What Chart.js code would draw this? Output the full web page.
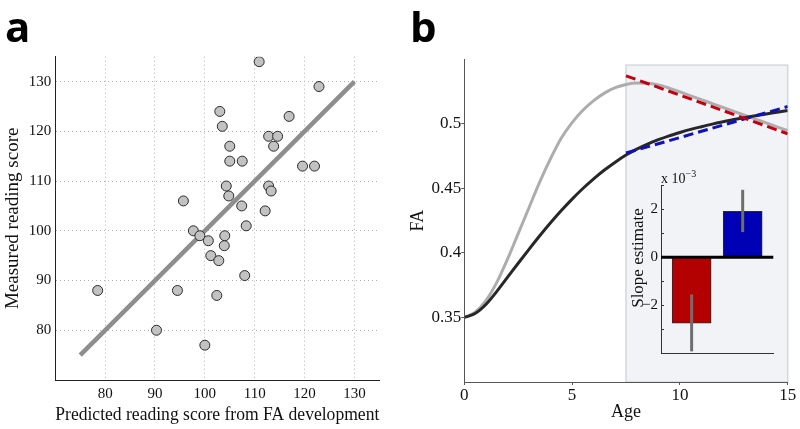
<!DOCTYPE html>
<html>
<head>
<meta charset="utf-8">
<script src="https://cdn.jsdelivr.net/npm/chart.js@4.4.0/dist/chart.umd.min.js"></script>
<style>
  body { margin: 0; background: #fff; }
  #wrap { position: relative; width: 800px; height: 429px; overflow: hidden; font-family: "Liberation Serif", serif; }
  canvas { position: absolute; }
  .letter { position: absolute; top: 5px; font-family: "Open Sans", sans-serif; font-weight: 700; font-size: 42px; line-height: 42px; color: #000; }
  .txt { position: absolute; font-family: "Liberation Serif", serif; color: #111; white-space: nowrap; }
</style>
</head>
<body>
<div id="wrap">
  <canvas id="chartA" width="400" height="429" style="left:0;top:0"></canvas>
  <canvas id="chartB" width="400" height="429" style="left:400px;top:0"></canvas>
  <canvas id="inset" width="150" height="200" style="left:640px;top:170px"></canvas>
  <div class="letter" style="left:5px">a</div>
  <div class="letter" style="left:410px">b</div>
  <div class="txt" style="left:661px;top:168px;font-size:14px">x 10<sup style="font-size:10px">−3</sup></div>
  <div class="txt" style="left:638px;top:258px;font-size:17px;transform:translate(-50%,-50%) rotate(-90deg)">Slope estimate</div>
</div>
<script>
// panel a: predicted vs measured reading score
const predicted = [110.9, 122.9, 103.0, 103.5, 116.9, 112.8, 114.6, 113.8, 105.0, 105.0, 107.5, 119.6,
  122.0, 104.3, 112.8, 113.3, 104.8, 95.7, 107.4, 112.1, 108.3, 97.7, 99.0, 104.0, 100.7, 103.9,
  101.2, 102.8, 108.0, 78.5, 94.5, 102.4, 90.3, 100.0];
const measured = [134, 129, 124, 121, 123, 119, 119, 117, 117, 114, 114, 113,
  113, 109, 109, 108, 107, 106, 105, 104, 101, 100, 99, 99, 98, 97,
  95, 94, 91, 88, 88, 87, 80, 77];
const fitX = [75, 130];
const fitY = [75, 130];
const ticksA = [80, 90, 100, 110, 120, 130];

// panel b: FA development curves
const ages = [0, 0.5, 1, 1.5, 2, 2.5, 3, 3.5, 4, 4.5, 5, 5.5, 6, 6.5, 7, 7.5,
  8, 8.5, 9, 9.5, 10, 10.5, 11, 11.5, 12, 12.5, 13, 13.5, 14, 14.5, 15];
const faLight = [0.350, 0.354, 0.363, 0.377, 0.395, 0.415, 0.435, 0.455, 0.473, 0.489, 0.501, 0.5105,
  0.518, 0.5238, 0.528, 0.5305, 0.5316, 0.5315, 0.5302, 0.5277, 0.5247, 0.5217, 0.5187, 0.5157,
  0.5127, 0.5097, 0.5067, 0.5037, 0.5007, 0.4977, 0.4948];
const faDark = [0.350, 0.353, 0.360, 0.370, 0.381, 0.392, 0.4028, 0.4133, 0.4233, 0.4328, 0.4417, 0.4499,
  0.4574, 0.4642, 0.4703, 0.4758, 0.4804, 0.4843, 0.4877, 0.4907, 0.4933, 0.4957, 0.4978, 0.4998,
  0.5016, 0.5033, 0.5048, 0.5063, 0.5077, 0.5090, 0.5103];
const trendAges = [7.5, 15];
const redTrend = [0.5372, 0.4923];
const blueTrend = [0.4774, 0.5134];
const shadeAges = [7.5, 15];
const shadeTop = 0.5455;
const ticksBx = [0, 5, 10, 15];
const ticksBy = [0.35, 0.4, 0.45, 0.5];

// inset: slope estimates (x 10^-3)
const slopeGroups = [1, 2];
const slopeValues = [-2.75, 1.9];
const slopeLow = [-3.92, 1.04];
const slopeHigh = [-1.55, 2.8];
const slopeTickLabels = [-2, 0, 2];

const serif = 'Liberation Serif';
const pts = (xs, ys) => xs.map((x, i) => ({ x: x, y: ys[i] }));

// shaded background for the age window
const shadePlugin = {
  id: 'shade',
  beforeDraw(chart) {
    const { ctx, scales: { x, y } } = chart;
    const l = x.getPixelForValue(shadeAges[0]);
    const r = x.getPixelForValue(shadeAges[1]);
    const t = y.getPixelForValue(shadeTop);
    const b = y.getPixelForValue(y.min);
    ctx.save();
    ctx.fillStyle = '#f2f3f6';
    ctx.fillRect(l, t, r - l, b - t);
    ctx.strokeStyle = '#d4d8dc';
    ctx.lineWidth = 1.5;
    ctx.strokeRect(l, t, r - l, b - t);
    ctx.restore();
  }
};

// zero line, error bars and inner ticks of the inset
const insetPlugin = {
  id: 'insetExtras',
  afterDatasetsDraw(chart) {
    const { ctx, chartArea, scales: { x, y } } = chart;
    ctx.save();
    ctx.strokeStyle = '#333';
    ctx.lineWidth = 1;
    y.ticks.forEach(t => {
      const py = Math.round(y.getPixelForValue(t.value)) + 0.5;
      ctx.beginPath();
      ctx.moveTo(chartArea.left, py);
      ctx.lineTo(chartArea.left + 3, py);
      ctx.stroke();
    });
    const y0 = y.getPixelForValue(0);
    ctx.strokeStyle = '#000';
    ctx.lineWidth = 3;
    ctx.beginPath();
    ctx.moveTo(chartArea.left, y0);
    ctx.lineTo(chartArea.right, y0);
    ctx.stroke();
    ctx.strokeStyle = '#6e6e6e';
    ctx.lineWidth = 3;
    slopeGroups.forEach((g, i) => {
      const px = x.getPixelForValue(g);
      ctx.beginPath();
      ctx.moveTo(px, y.getPixelForValue(slopeLow[i]));
      ctx.lineTo(px, y.getPixelForValue(slopeHigh[i]));
      ctx.stroke();
    });
    ctx.restore();
  }
};

new Chart(document.getElementById('chartA'), {
  type: 'scatter',
  data: {
    datasets: [
      {
        data: pts(predicted, measured),
        pointRadius: 5,
        pointBackgroundColor: '#c2c2c2',
        pointBorderColor: '#2a2a2a',
        pointBorderWidth: 1
      },
      {
        type: 'line',
        data: pts(fitX, fitY),
        borderColor: '#8e8e8e',
        borderWidth: 4.5,
        pointRadius: 0
      }
    ]
  },
  options: {
    responsive: false,
    animation: false,
    layout: { padding: { top: 56.7, right: 20.7, left: 0, bottom: 0 } },
    plugins: { legend: { display: false }, tooltip: { enabled: false } },
    scales: {
      x: {
        type: 'linear', min: 70, max: 135,
        afterBuildTicks: s => { s.ticks = ticksA.map(v => ({ value: v })); },
        afterFit: s => { s.height = 49; },
        grid: { color: '#b0b0b0', drawTicks: false },
        border: { color: '#222', dash: [1, 3] },
        ticks: { color: '#111', padding: 5, font: { family: serif, size: 15 } },
        title: { display: true, text: 'Predicted reading score from FA development', color: '#111',
          font: { family: serif, size: 19 }, padding: { top: 0, bottom: 3 } }
      },
      y: {
        type: 'linear', min: 70, max: 135,
        afterBuildTicks: s => { s.ticks = ticksA.map(v => ({ value: v })); },
        afterFit: s => { s.width = 55.3; },
        grid: { color: '#b0b0b0', drawTicks: false },
        border: { color: '#222', dash: [1, 3] },
        ticks: { color: '#111', padding: 4, font: { family: serif, size: 15 } },
        title: { display: true, text: 'Measured reading score', color: '#111',
          font: { family: serif, size: 19 }, padding: { top: 2, bottom: 0 } }
      }
    }
  }
});

new Chart(document.getElementById('chartB'), {
  type: 'scatter',
  data: {
    datasets: [
      { data: pts(trendAges, redTrend), showLine: true, borderColor: '#c40010', borderWidth: 3,
        borderDash: [10, 5], pointRadius: 0 },
      { data: pts(trendAges, blueTrend), showLine: true, borderColor: '#1010c0', borderWidth: 3,
        borderDash: [10, 5], pointRadius: 0 },
      { data: pts(ages, faDark), showLine: true, borderColor: '#272727', borderWidth: 3,
        cubicInterpolationMode: 'monotone', pointRadius: 0 },
      { data: pts(ages, faLight), showLine: true, borderColor: '#adadad', borderWidth: 3,
        cubicInterpolationMode: 'monotone', pointRadius: 0 }
    ]
  },
  options: {
    responsive: false,
    animation: false,
    layout: { padding: { top: 59.3, right: 12.3, left: 0, bottom: 0 } },
    plugins: { legend: { display: false }, tooltip: { enabled: false } },
    scales: {
      x: {
        type: 'linear', min: 0, max: 15,
        afterBuildTicks: s => { s.ticks = ticksBx.map(v => ({ value: v })); },
        afterFit: s => { s.height = 47; },
        grid: { drawOnChartArea: false, color: '#555', tickLength: 3 },
        border: { color: '#555' },
        ticks: { color: '#111', padding: 0, font: { family: serif, size: 17 } },
        title: { display: true, text: 'Age', color: '#111',
          font: { family: serif, size: 18 }, padding: { top: 0, bottom: 6 } }
      },
      y: {
        type: 'linear', min: 0.30, max: 0.55,
        afterBuildTicks: s => { s.ticks = ticksBy.map(v => ({ value: v })); },
        afterFit: s => { s.width = 64.3; },
        grid: { drawOnChartArea: false, color: '#555', tickLength: 3 },
        border: { color: '#555' },
        ticks: { color: '#111', padding: 0, font: { family: serif, size: 17 },
          callback: v => String(v) },
        title: { display: true, text: 'FA', color: '#111',
          font: { family: serif, size: 18 }, padding: { top: 7, bottom: 0 } }
      }
    }
  },
  plugins: [shadePlugin]
});

new Chart(document.getElementById('inset'), {
  type: 'bar',
  data: {
    datasets: [{
      data: pts(slopeGroups, slopeValues),
      backgroundColor: ['#b30000', '#0000b4'],
      borderColor: '#2a2a2a',
      borderWidth: 1,
      barThickness: 39
    }]
  },
  options: {
    responsive: false,
    animation: false,
    layout: { padding: { top: 15, right: 16.7, left: 0, bottom: 0 } },
    plugins: { legend: { display: false }, tooltip: { enabled: false } },
    scales: {
      x: {
        type: 'linear', min: 0.4, max: 2.6, offset: false,
        afterFit: s => { s.height = 16.7; },
        grid: { display: false, drawTicks: false },
        border: { color: '#333' },
        ticks: { display: false }
      },
      y: {
        type: 'linear', min: -4, max: 3,
        afterFit: s => { s.width = 21; },
        grid: { display: false, drawTicks: false },
        border: { color: '#333' },
        ticks: { stepSize: 1, color: '#111', padding: 3, font: { family: serif, size: 15 },
          callback: v => (slopeTickLabels.includes(v) ? (v < 0 ? '−' + (-v) : String(v)) : '') }
      }
    }
  },
  plugins: [insetPlugin]
});
</script>
</body>
</html>
